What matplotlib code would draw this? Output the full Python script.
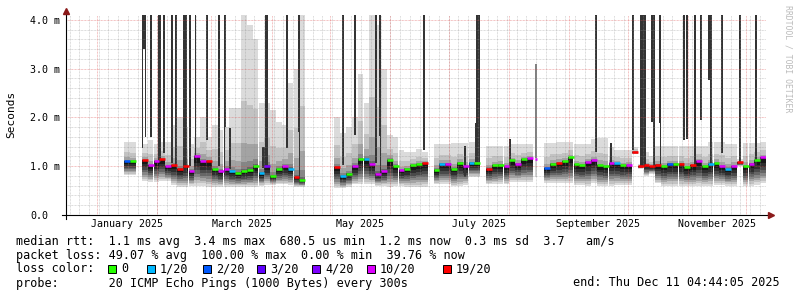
import numpy as np
import pandas as pd
import matplotlib
matplotlib.use("Agg")
import matplotlib.pyplot as plt
import matplotlib.dates as mdates
from matplotlib.patches import Rectangle
from datetime import datetime, timedelta

plt.rcParams['font.family'] = 'DejaVu Sans Mono'

end = datetime(2025, 12, 11, 4, 44, 5)
start = end - timedelta(days=360)
bin_days = 3
nan = np.nan

# one value per 3-day step, starting at `start`
median_ms = [nan]*10 + [
    1.11, 1.10, nan, 1.13, 1.02, 1.10, 1.15, 1.00, 1.02, 0.95,
    1.00, 0.90, 1.20, 1.10, 1.10, 0.95, 0.90, 0.95, 0.90, 0.87,
    0.90, 0.93, 1.00, 0.86, 1.00, 0.80, 0.94, 1.00, 0.95, 0.78,
    0.72, nan, nan, nan, nan, nan, 0.99, 0.80, 0.85, 1.00,
    1.15, 1.15, 1.05, 0.85, 0.90, 1.13, 1.00, 0.92, 0.95, 1.02,
    1.05, 1.07, nan, 0.93, 1.05, 1.05, 0.95, 1.07, 1.00, 1.07,
    1.07, nan, 0.95, 1.02, 1.03, 1.00, 1.12, 1.05, 1.14, 1.16,
    nan, nan, 0.96, 1.05, 1.06, 1.10, 1.18, 1.04, 1.02, 1.08,
    1.12, 1.02, 1.00, 1.07, 1.06, 1.02, 1.03, 1.30, 1.00, 1.02,
    1.00, 1.03, 1.00, 1.05, 1.05, 1.05, 0.98, 1.02, 1.10, 1.00,
    1.05, 1.06, 1.00, 0.95, 1.00, 1.08, 1.00, 1.05, 1.12, 1.18]

loss_cnt = [0]*10 + [
    2, 0, 0, 19, 10, 10, 19, 10, 19, 19,
    19, 10, 10, 10, 19, 0, 10, 10, 1, 0,
    0, 0, 0, 1, 4, 0, 0, 10, 1, 19,
    0, 0, 0, 0, 0, 0, 19, 1, 0, 10,
    0, 1, 10, 10, 10, 0, 0, 10, 0, 0,
    0, 19, 0, 0, 1, 10, 0, 0, 10, 1,
    0, 0, 19, 0, 0, 10, 0, 10, 0, 10,
    0, 0, 2, 0, 19, 0, 0, 0, 0, 10,
    10, 0, 0, 10, 1, 0, 10, 19, 19, 19,
    19, 19, 0, 2, 0, 19, 0, 19, 10, 0,
    1, 0, 10, 1, 10, 19, 0, 10, 0, 10]

smoke_lo = [nan]*10 + [
    0.82, 0.82, nan, 0.70, 0.68, 0.68, 0.70, 0.70, 0.62, 0.58,
    0.58, 0.60, 0.60, 0.60, 0.58, 0.58, 0.58, 0.58, 0.58, 0.58,
    0.58, 0.58, 0.58, 0.60, 0.62, 0.62, 0.63, 0.63, 0.62, 0.58,
    0.58, nan, nan, nan, nan, nan, 0.55, 0.55, 0.58, 0.63,
    0.63, 0.63, 0.63, 0.60, 0.60, 0.58, 0.60, 0.60, 0.58, 0.58,
    0.58, 0.58, nan, 0.63, 0.63, 0.63, 0.59, 0.59, 0.62, 0.78,
    0.78, nan, 0.63, 0.63, 0.63, 0.63, 0.68, 0.68, 0.68, 0.68,
    nan, nan, 0.66, 0.66, 0.66, 0.65, 0.65, 0.62, 0.62, 0.60,
    0.65, 0.60, 0.60, 0.60, 0.62, 0.62, 0.62, 1.25, 0.95, 0.80,
    0.85, 0.65, 0.60, 0.60, 0.60, 0.60, 0.60, 0.60, 0.60, 0.60,
    0.60, 0.62, 0.62, 0.60, 0.60, 1.00, 0.60, 0.60, 0.62, 0.65]

smoke_hi = [nan]*10 + [
    1.50, 1.50, nan, 1.45, 1.54, 1.45, 1.50, 1.50, 1.85, 2.00,
    1.80, 1.45, 1.60, 2.00, 1.60, 1.85, 1.75, 1.80, 2.20, 2.20,
    4.10, 3.90, 3.60, 2.30, 2.30, 2.15, 1.90, 1.85, 2.70, 3.00,
    4.10, nan, nan, nan, nan, nan, 2.00, 1.68, 1.80, 2.00,
    2.90, 2.30, 4.10, 3.90, 3.00, 1.64, 1.60, 1.33, 1.30, 1.30,
    1.35, 1.30, nan, 1.45, 1.45, 1.45, 1.47, 1.47, 1.47, 1.50,
    1.50, nan, 1.42, 1.42, 1.42, 1.42, 1.45, 1.45, 1.45, 1.45,
    nan, nan, 1.48, 1.48, 1.50, 1.50, 1.50, 1.45, 1.45, 1.45,
    1.55, 1.57, 1.57, 1.40, 1.33, 1.33, 1.33, 1.40, 1.05, 1.30,
    1.20, 1.42, 1.42, 1.42, 1.42, 1.42, 1.42, 1.42, 1.42, 1.42,
    1.50, 1.50, 1.50, 1.45, 1.45, 1.15, 1.48, 1.48, 1.48, 1.50]

# dark columns (loss spikes), start time, width in days, lower/upper ms
spike_start = ['2025-01-24 03:00', '2025-01-24 03:00', '2025-01-25 20:00', '2025-01-28 07:00',
               '2025-02-01 09:00', '2025-02-03 23:00', '2025-02-08 02:00', '2025-02-10 03:00',
               '2025-02-14 05:00', '2025-02-17 07:00', '2025-02-20 10:00', '2025-02-26 02:00',
               '2025-03-04 05:00', '2025-03-07 08:00', '2025-03-07 08:00', '2025-03-09 22:00',
               '2025-03-26 21:00', '2025-03-28 10:00', '2025-04-08 05:00', '2025-04-14 10:00',
               '2025-04-15 01:00', '2025-05-07 00:00', '2025-05-13 05:00', '2025-05-24 00:00',
               '2025-05-26 02:00', '2025-05-26 14:00', '2025-06-17 17:00', '2025-07-08 19:00',
               '2025-07-14 12:00', '2025-07-15 00:00', '2025-07-31 22:00', '2025-09-14 04:00',
               '2025-09-21 22:00', '2025-10-03 05:00', '2025-10-07 07:00', '2025-10-13 00:00',
               '2025-10-14 00:00', '2025-10-17 03:00', '2025-10-17 18:00', '2025-10-29 12:00',
               '2025-10-31 00:00', '2025-11-04 03:00', '2025-11-07 05:00', '2025-11-11 07:00',
               '2025-11-12 07:00', '2025-11-18 00:00', '2025-11-27 05:00', '2025-12-05 12:00']
spike_days = [2.0, 0.7, 0.6, 1.0, 1.5, 1.0, 1.0, 1.0, 2.0, 1.0, 0.6, 1.0,
              1.0, 1.1, 0.5, 1.0, 1.5, 1.5, 1.0, 1.0, 0.5, 1.0, 1.0, 1.0,
              1.0, 0.5, 1.1, 1.3, 0.4, 2.0, 1.0, 1.0, 1.2, 1.0, 3.1, 2.0,
              1.0, 1.0, 0.5, 1.0, 1.0, 1.0, 1.0, 2.0, 1.0, 1.0, 1.0, 1.0]
spike_lo = [3.40, 1.37, 1.60, 1.60, 1.09, 1.27, 1.07, 1.00, 0.89, 1.00, 1.20, 1.54,
            1.00, 1.81, 0.95, 0.95, 0.96, 0.96, 1.37, 1.71, 0.72, 1.02, 1.64, 1.07,
            1.62, 0.80, 1.33, 0.78, 1.09, 1.09, 1.00, 1.30, 1.00, 1.33, 1.00, 1.90,
            1.00, 1.89, 1.03, 1.54, 1.56, 1.00, 1.95, 2.77, 1.00, 1.28, 1.09, 1.00]
spike_hi = [4.1, 4.1, 4.1, 4.1, 4.1, 4.1, 4.1, 4.1, 4.1, 4.1, 4.1, 4.1,
            4.1, 4.1, 1.81, 1.78, 1.40, 4.1, 4.1, 4.1, 1.71, 4.1, 4.1, 4.1,
            4.1, 1.62, 4.1, 1.41, 1.89, 4.1, 1.56, 4.1, 1.47, 4.1, 4.1, 4.1,
            4.1, 4.1, 1.89, 4.1, 4.1, 4.1, 4.1, 4.1, 4.1, 4.1, 4.1, 4.1]

# lone sample in August
solo_start = '2025-08-14 07:00'
solo_median = 1.15
solo_lo, solo_mid, solo_hi = 0.78, 1.17, 3.10

loss_levels = [0, 1, 2, 3, 4, 10, 19]
loss_labels = ['0', '1/20', '2/20', '3/20', '4/20', '10/20', '19/20']
loss_colors = ['#26ff00', '#00b8ff', '#0059ff', '#5e00ff', '#7e00ff', '#dd00ff', '#ff0000']

legend_lines = [
    "median rtt:  1.1 ms avg  3.4 ms max  680.5 us min  1.2 ms now  0.3 ms sd  3.7   am/s",
    "packet loss: 49.07 % avg  100.00 % max  0.00 % min  39.76 % now",
]

W, H = 797, 297
fig = plt.figure(figsize=(W/100, H/100), dpi=100)
ax = fig.add_axes([66/W, 82/H, 700/W, 200/H])
x0 = mdates.date2num(start)
x1 = mdates.date2num(end)
ax.set_xlim(x0, x1)
ax.set_ylim(0, 4.1)

med = np.array(median_ms)
lo = np.array(smoke_lo)
hi = np.array(smoke_hi)
ok = ~np.isnan(med)
xs = x0 + bin_days*np.arange(len(med))

# smoke: layered grey bands, light outside, dark near the median
grays = [0.86, 0.76, 0.64, 0.52, 0.40, 0.29, 0.18, 0.09]
nl = len(grays)
for j, g in enumerate(grays):
    f = 1 - j/nl
    bot = med - (med - lo)*f**0.75
    top = med + (hi - med)*f**6
    ax.bar(xs[ok], (top - bot)[ok], bottom=bot[ok], width=bin_days, align='edge',
           color=str(g), linewidth=0, antialiased=False, zorder=2)

# dark loss columns
sx = mdates.date2num(pd.to_datetime(spike_start))
ax.bar(sx, np.array(spike_hi) - np.array(spike_lo), bottom=spike_lo, width=spike_days,
       align='edge', color='#333333', linewidth=0, zorder=3)

# the lone August sample
s0 = mdates.date2num(pd.to_datetime(solo_start))
ax.bar([s0], [solo_mid - solo_lo], bottom=[solo_lo], width=1.0, align='edge',
       color='#d4d4d4', linewidth=0, zorder=3)
ax.bar([s0], [solo_hi - solo_mid], bottom=[solo_mid], width=1.0, align='edge',
       color='#808080', linewidth=0, zorder=3)
ax.hlines([solo_median], s0, s0 + 1.0, colors=loss_colors[5], lw=1.8, zorder=6)

# grid (drawn over the smoke, translucent like rrdtool)
minor_col = (0.56, 0.56, 0.56, 0.4)
major_col = (0.87, 0.31, 0.31, 0.45)
dash = (0, (0.72, 0.72))
epoch5 = datetime(1970, 1, 1)
d = epoch5 + timedelta(days=5*int(np.ceil((start - epoch5).days/5)))
while d < end:
    ax.axvline(mdates.date2num(d), color=minor_col, lw=0.72, ls=dash, zorder=4)
    d += timedelta(days=5)
for v in np.arange(0.2, 4.1, 0.2):
    if abs(v - round(v)) > 1e-6:
        ax.axhline(v, color=minor_col, lw=0.72, ls=dash, zorder=4)
for v in [1, 2, 3, 4]:
    ax.axhline(v, color=major_col, lw=0.72, ls=dash, zorder=4)
for mth in range(1, 13):
    ax.axvline(mdates.date2num(datetime(2025, mth, 1)), color=major_col, lw=0.72, ls=dash, zorder=4)

# median line, coloured by loss
cols = [loss_colors[loss_levels.index(c)] for c in loss_cnt]
ax.hlines(med[ok], xs[ok], xs[ok] + bin_days, colors=np.array(cols)[ok], lw=1.8, zorder=6)

# axes
for s in ax.spines.values():
    s.set_visible(False)
ax.plot([-0.006, 1.006], [0, 0], transform=ax.transAxes, color='black', lw=0.8,
        clip_on=False, zorder=7)
ax.plot([0, 0], [-0.02, 1.02], transform=ax.transAxes, color='black', lw=0.8,
        clip_on=False, zorder=7)
ax.plot([1.007], [0], '>', transform=ax.transAxes, color='#8b1a1a', ms=4, clip_on=False, zorder=8)
ax.plot([0], [1.02], '^', transform=ax.transAxes, color='#8b1a1a', ms=4, clip_on=False, zorder=8)

mid_months = [1, 3, 5, 7, 9, 11]
mids = [mdates.date2num(datetime(2025, m, 1)) +
        (mdates.date2num(datetime(2025, m + 1, 1)) - mdates.date2num(datetime(2025, m, 1)))/2
        for m in mid_months]
ax.set_xticks(mids, [datetime(2025, m, 1).strftime('%B %Y') for m in mid_months])
ax.set_yticks([0, 1, 2, 3, 4], ['0.0', '1.0 m', '2.0 m', '3.0 m', '4.0 m'])
ax.tick_params(axis='x', length=0, pad=3, labelsize=7.2)
ax.tick_params(axis='y', length=0, pad=25.9, labelsize=7.2)
for t in ax.get_yticklabels():
    t.set_horizontalalignment('left')

fig.text(11/W, 1 - 114/H, 'Seconds', rotation=90, ha='center', va='center', fontsize=8)
fig.text(788/W, 1 - 59/H, 'RRDTOOL / TOBI OETIKER', rotation=270, ha='center', va='center',
         fontsize=5.9, color='#bbbbbb')

# legend
fs = 8.5
fig.text(16/W, 1 - 241/H, legend_lines[0], ha='left', va='center', fontsize=fs)
fig.text(16/W, 1 - 255/H, legend_lines[1], ha='left', va='center', fontsize=fs)
fig.text(16/W, 1 - 269/H, 'loss color:', ha='left', va='center', fontsize=fs)
box_x = [108, 147, 203, 257, 312, 367, 443]
for bx, lab, c in zip(box_x, loss_labels, loss_colors):
    fig.add_artist(Rectangle((bx/W, 1 - 273/H), 8/W, 8/H, transform=fig.transFigure,
                             facecolor=c, edgecolor='black', lw=0.7))
    fig.text((bx + 13)/W, 1 - 269/H, lab, ha='left', va='center', fontsize=fs)
fig.text(16/W, 1 - 283/H, 'probe:       20 ICMP Echo Pings (1000 Bytes) every 300s',
         ha='left', va='center', fontsize=fs)
fig.text(780/W, 1 - 283/H, 'end: Thu Dec 11 04:44:05 2025', ha='right', va='center', fontsize=fs)

fig.savefig('out.png', dpi=100)
